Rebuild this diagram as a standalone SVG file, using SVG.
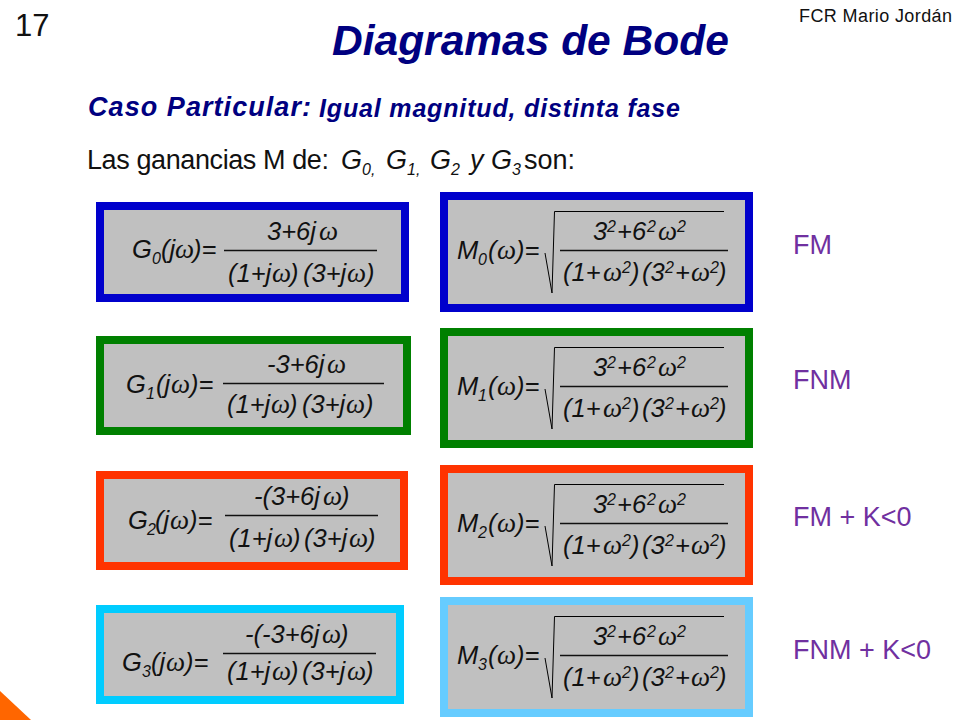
<svg xmlns="http://www.w3.org/2000/svg" width="960" height="720" viewBox="0 0 960 720">
<style>
text{font-family:"Liberation Sans",Arial,sans-serif;fill:#111}
.e{font-size:25.5px;font-style:italic}
.w{font-family:"Liberation Serif","DejaVu Serif",serif;font-size:27px;font-style:italic}
.s{font-size:16px;font-style:italic}
.u{font-size:16px;font-style:italic}
.box{fill:#C0C0C0;stroke-width:8}
.bar{stroke:#111;stroke-width:1.6;fill:none}
.rad{stroke:#000;stroke-width:1;fill:none}
.side{font-size:27px;fill:#7030A0}
.h{font-size:27px}
.hi{font-size:27px;font-style:italic}
</style>
<rect width="960" height="720" fill="#fff"/>
<polygon points="0,691 31,720 0,720" fill="#FF6600"/>
<g id="header">
<text x="15" y="36" font-size="31">17</text>
<text x="799" y="22" font-size="18" textLength="153">FCR Mario Jordán</text>
<text x="332" y="55" font-size="42.5" font-weight="bold" font-style="italic" style="fill:#000080">Diagramas de Bode</text>
<text x="88" y="116" font-size="27" font-weight="bold" font-style="italic" style="fill:#000080" textLength="223">Caso Particular:</text>
<text x="319" y="117" font-size="25" font-weight="bold" font-style="italic" style="fill:#000080" textLength="361">Igual magnitud, distinta fase</text>
<text class="h" x="87" y="169" textLength="242">Las ganancias M de:</text>
<text class="hi" x="341" y="169">G</text><text x="362" y="175" font-size="16" font-style="italic">0,</text>
<text class="hi" x="386" y="169">G</text><text x="407" y="175" font-size="16" font-style="italic">1,</text>
<text class="hi" x="430" y="169">G</text><text x="451" y="175" font-size="16" font-style="italic">2</text>
<text class="hi" x="470" y="169">y</text>
<text class="hi" x="491" y="169">G</text><text x="512" y="175" font-size="16" font-style="italic">3</text>
<text class="h" x="524" y="169">son:</text>
</g>
<g id="connectors"></g>
<g id="G0">
<rect class="box" x="100" y="206" width="305" height="92" stroke="#0000CC"/>
<text class="e" x="132" y="258">G</text><text class="s" x="152" y="264">0</text><text class="e" x="161" y="258">(j</text><text class="w" x="175" y="258">ω</text><text class="e" x="193" y="258">)=</text>
<line class="bar" x1="224" y1="250.500" x2="377" y2="250.500"/>
<text class="e" x="267" y="240">3+6j</text><text class="w" x="319" y="240">ω</text>
<text class="e" x="228" y="282">(1+j</text><text class="w" x="272" y="282">ω</text><text class="e" x="290" y="282">)</text><text class="e" x="303" y="282">(3+j</text><text class="w" x="347" y="282">ω</text><text class="e" x="366" y="282">)</text>
</g>
<g id="G1">
<rect class="box" x="100" y="340" width="307" height="91" stroke="#008000"/>
<text class="e" x="126" y="393">G</text><text class="s" x="146" y="399">1</text><text class="e" x="156" y="393">(j</text><text class="w" x="171" y="393">ω</text><text class="e" x="190" y="393">)=</text>
<line class="bar" x1="223" y1="383.500" x2="384" y2="383.500"/>
<text class="e" x="267" y="373">-3+6j</text><text class="w" x="327" y="373">ω</text>
<text class="e" x="227" y="413">(1+j</text><text class="w" x="271" y="413">ω</text><text class="e" x="289" y="413">)</text><text class="e" x="302" y="413">(3+j</text><text class="w" x="346" y="413">ω</text><text class="e" x="365" y="413">)</text>
</g>
<g id="G2">
<rect class="box" x="100" y="475" width="304" height="91" stroke="#FF3300"/>
<text class="e" x="128" y="529">G</text><text class="s" x="147" y="535">2</text><text class="e" x="155" y="529">(j</text><text class="w" x="170" y="529">ω</text><text class="e" x="189" y="529">)=</text>
<line class="bar" x1="225" y1="515.500" x2="378" y2="515.500"/>
<text class="e" x="254" y="505">-(3+6j</text><text class="w" x="323" y="505">ω</text><text class="e" x="341" y="505">)</text>
<text class="e" x="229" y="547">(1+j</text><text class="w" x="274" y="547">ω</text><text class="e" x="292" y="547">)</text><text class="e" x="304" y="547">(3+j</text><text class="w" x="349" y="547">ω</text><text class="e" x="367" y="547">)</text>
</g>
<g id="G3">
<rect class="box" x="100" y="609" width="300" height="91" stroke="#00CCFF"/>
<text class="e" x="122" y="671">G</text><text class="s" x="142" y="677">3</text><text class="e" x="151" y="671">(j</text><text class="w" x="166" y="671">ω</text><text class="e" x="185" y="671">)=</text>
<line class="bar" x1="223" y1="653.500" x2="376" y2="653.500"/>
<text class="e" x="245" y="643">-(-3+6j</text><text class="w" x="322" y="643">ω</text><text class="e" x="340" y="643">)</text>
<text class="e" x="227" y="680">(1+j</text><text class="w" x="272" y="680">ω</text><text class="e" x="290" y="680">)</text><text class="e" x="302" y="680">(3+j</text><text class="w" x="347" y="680">ω</text><text class="e" x="365" y="680">)</text>
</g>
<g id="M0">
<rect class="box" x="444" y="196" width="305" height="112" stroke="#0000CC"/>
<text class="e" x="457" y="259">M</text><text class="s" x="478" y="265">0</text><text class="e" x="488" y="259">(</text><text class="w" x="497" y="259">ω</text><text class="e" x="516" y="259">)=</text>
<path class="rad" d="M545 253L552 293L554.500 211.500H724"/>
<line class="bar" x1="560" y1="250.500" x2="728" y2="250.500"/>
<text class="e" x="593" y="240">3</text><text class="u" x="607" y="232">2</text><text class="e" x="617" y="240">+6</text><text class="u" x="647" y="232">2</text><text class="w" x="658" y="240">ω</text><text class="u" x="677" y="232">2</text>
<text class="e" x="563" y="281">(1+</text><text class="w" x="603" y="281">ω</text><text class="u" x="622" y="273">2</text><text class="e" x="631" y="281">)</text><text class="e" x="642" y="281">(3</text><text class="u" x="665" y="273">2</text><text class="e" x="675" y="281">+</text><text class="w" x="691" y="281">ω</text><text class="u" x="710" y="273">2</text><text class="e" x="718" y="281">)</text>
</g>
<g id="M1">
<rect class="box" x="444" y="332" width="305" height="112" stroke="#008000"/>
<text class="e" x="457" y="395">M</text><text class="s" x="478" y="401">1</text><text class="e" x="488" y="395">(</text><text class="w" x="497" y="395">ω</text><text class="e" x="516" y="395">)=</text>
<path class="rad" d="M545 389L552 429L554.500 347.500H724"/>
<line class="bar" x1="560" y1="386.500" x2="728" y2="386.500"/>
<text class="e" x="593" y="376">3</text><text class="u" x="607" y="368">2</text><text class="e" x="617" y="376">+6</text><text class="u" x="647" y="368">2</text><text class="w" x="658" y="376">ω</text><text class="u" x="677" y="368">2</text>
<text class="e" x="563" y="417">(1+</text><text class="w" x="603" y="417">ω</text><text class="u" x="622" y="409">2</text><text class="e" x="631" y="417">)</text><text class="e" x="642" y="417">(3</text><text class="u" x="665" y="409">2</text><text class="e" x="675" y="417">+</text><text class="w" x="691" y="417">ω</text><text class="u" x="710" y="409">2</text><text class="e" x="718" y="417">)</text>
</g>
<g id="M2">
<rect class="box" x="444" y="469" width="305" height="112" stroke="#FF3300"/>
<text class="e" x="457" y="532">M</text><text class="s" x="478" y="538">2</text><text class="e" x="488" y="532">(</text><text class="w" x="497" y="532">ω</text><text class="e" x="516" y="532">)=</text>
<path class="rad" d="M545 526L552 566L554.500 484.500H724"/>
<line class="bar" x1="560" y1="523.500" x2="728" y2="523.500"/>
<text class="e" x="593" y="513">3</text><text class="u" x="607" y="505">2</text><text class="e" x="617" y="513">+6</text><text class="u" x="647" y="505">2</text><text class="w" x="658" y="513">ω</text><text class="u" x="677" y="505">2</text>
<text class="e" x="563" y="554">(1+</text><text class="w" x="603" y="554">ω</text><text class="u" x="622" y="546">2</text><text class="e" x="631" y="554">)</text><text class="e" x="642" y="554">(3</text><text class="u" x="665" y="546">2</text><text class="e" x="675" y="554">+</text><text class="w" x="691" y="554">ω</text><text class="u" x="710" y="546">2</text><text class="e" x="718" y="554">)</text>
</g>
<g id="M3">
<rect class="box" x="444" y="601" width="305" height="112" stroke="#66CCFF"/>
<text class="e" x="457" y="664">M</text><text class="s" x="478" y="670">3</text><text class="e" x="488" y="664">(</text><text class="w" x="497" y="664">ω</text><text class="e" x="516" y="664">)=</text>
<path class="rad" d="M545 658L552 698L554.500 616.500H724"/>
<line class="bar" x1="560" y1="655.500" x2="728" y2="655.500"/>
<text class="e" x="593" y="645">3</text><text class="u" x="607" y="637">2</text><text class="e" x="617" y="645">+6</text><text class="u" x="647" y="637">2</text><text class="w" x="658" y="645">ω</text><text class="u" x="677" y="637">2</text>
<text class="e" x="563" y="686">(1+</text><text class="w" x="603" y="686">ω</text><text class="u" x="622" y="678">2</text><text class="e" x="631" y="686">)</text><text class="e" x="642" y="686">(3</text><text class="u" x="665" y="678">2</text><text class="e" x="675" y="686">+</text><text class="w" x="691" y="686">ω</text><text class="u" x="710" y="678">2</text><text class="e" x="718" y="686">)</text>
</g>
<g id="labels">
<text class="side" x="793" y="254">FM</text>
<text class="side" x="793" y="389">FNM</text>
<text class="side" x="793" y="526">FM + K&lt;0</text>
<text class="side" x="793" y="659">FNM + K&lt;0</text>
</g>
</svg>
